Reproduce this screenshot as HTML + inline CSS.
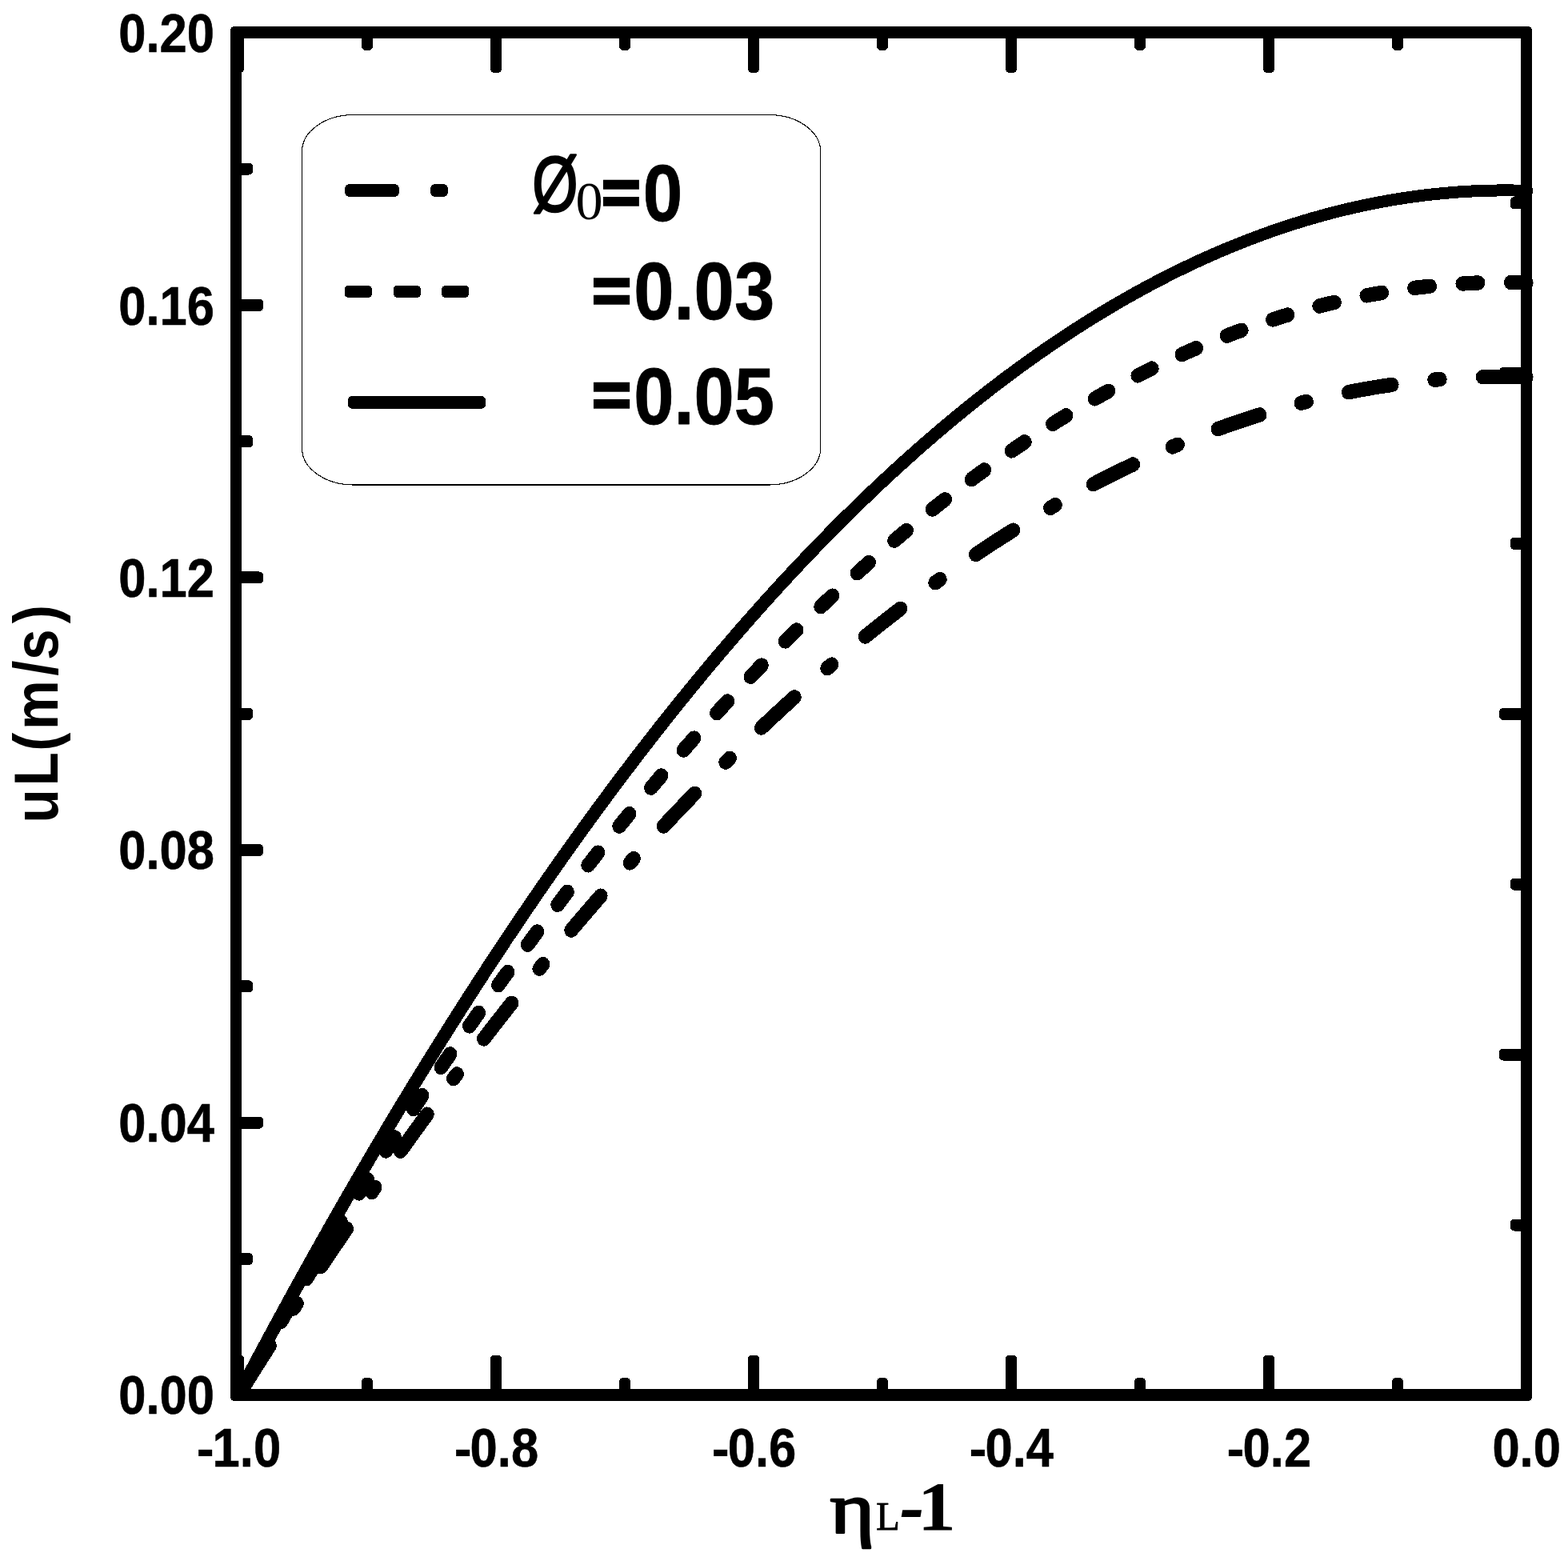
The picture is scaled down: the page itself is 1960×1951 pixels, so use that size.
<!DOCTYPE html>
<html lang="en"><head><meta charset="utf-8"><title>uL(m/s) vs ηL-1</title>
<style>html,body{margin:0;padding:0;background:#fff;}svg{display:block;}.sb{font-family:"Liberation Sans",sans-serif;font-weight:bold;}.sr{font-family:"Liberation Sans",sans-serif;font-weight:normal;}.tb{font-family:"Liberation Serif",serif;font-weight:bold;}.tr{font-family:"Liberation Serif",serif;font-weight:normal;}.tbi{font-family:"Liberation Serif",serif;font-weight:bold;font-style:italic;}text{fill:#000;}</style></head><body>
<svg width="1960" height="1951" viewBox="0 0 1960 1951" shape-rendering="crispEdges">
<rect x="0" y="0" width="1960" height="1951" fill="#fff"/>
<defs><clipPath id="plotclip"><rect x="295" y="40" width="1621.5" height="1705"/></clipPath></defs>
<g clip-path="url(#plotclip)"><g transform="scale(0.95,1)" fill="none" stroke="#000" stroke-linecap="round" stroke-linejoin="round">
<path d="M313.68,1743.90 L317.93,1737.42 L322.18,1730.95 L326.43,1724.50 L330.67,1718.07 L334.92,1711.66 L339.17,1705.26 L343.42,1698.88 L347.66,1692.51 L351.91,1686.16 L356.16,1679.83 L360.41,1673.51 L364.65,1667.21 L368.90,1660.93 L373.15,1654.66 L377.40,1648.41 L381.64,1642.18 L385.89,1635.96 L390.14,1629.76 L394.39,1623.58 L398.63,1617.41 L402.88,1611.26 L407.13,1605.13 L411.38,1599.01 L415.62,1592.91 L419.87,1586.82 L424.12,1580.75 L428.37,1574.70 L432.61,1568.67 L436.86,1562.65 L441.11,1556.65 L445.36,1550.66 L449.60,1544.69 L453.85,1538.74 L458.10,1532.80 L462.35,1526.89 L466.59,1520.98 L470.84,1515.10 L475.09,1509.23 L479.34,1503.37 L483.58,1497.54 L487.83,1491.72 L492.08,1485.91 L496.33,1480.13 L500.57,1474.36 L504.82,1468.60 L509.07,1462.87 L513.31,1457.15 L517.56,1451.44 L521.81,1445.75 L526.06,1440.08 L530.30,1434.43 L534.55,1428.79 L538.80,1423.17 L543.05,1417.56 L547.29,1411.97 L551.54,1406.40 L555.79,1400.85 L560.04,1395.31 L564.28,1389.79 L568.53,1384.28 L572.78,1378.79 L577.03,1373.32 L581.27,1367.86 L585.52,1362.42 L589.77,1357.00 L594.02,1351.59 L598.26,1346.20 L602.51,1340.83 L606.76,1335.47 L611.01,1330.13 L615.25,1324.81 L619.50,1319.50 L623.75,1314.21 L628.00,1308.94 L632.24,1303.68 L636.49,1298.44 L640.74,1293.21 L644.99,1288.01 L649.23,1282.82 L653.48,1277.64 L657.73,1272.48 L661.98,1267.34 L666.22,1262.22 L670.47,1257.11 L674.72,1252.01 L678.97,1246.94 L683.21,1241.88 L687.46,1236.84 L691.71,1231.81 L695.96,1226.80 L700.20,1221.81 L704.45,1216.83 L708.70,1211.87 L712.95,1206.93 L717.19,1202.00 L721.44,1197.09 L725.69,1192.20 L729.94,1187.32 L734.18,1182.46 L738.43,1177.62 L742.68,1172.79 L746.93,1167.98 L751.17,1163.18 L755.42,1158.41 L759.67,1153.64 L763.92,1148.90 L768.16,1144.17 L772.41,1139.46 L776.66,1134.76 L780.90,1130.09 L785.15,1125.42 L789.40,1120.78 L793.65,1116.15 L797.89,1111.54 L802.14,1106.94 L806.39,1102.36 L810.64,1097.80 L814.88,1093.25 L819.13,1088.72 L823.38,1084.21 L827.63,1079.71 L831.87,1075.23 L836.12,1070.77 L840.37,1066.32 L844.62,1061.89 L848.86,1057.48 L853.11,1053.08 L857.36,1048.70 L861.61,1044.33 L865.85,1039.99 L870.10,1035.66 L874.35,1031.34 L878.60,1027.04 L882.84,1022.76 L887.09,1018.50 L891.34,1014.25 L895.59,1010.01 L899.83,1005.80 L904.08,1001.60 L908.33,997.42 L912.58,993.25 L916.82,989.10 L921.07,984.97 L925.32,980.85 L929.57,976.75 L933.81,972.67 L938.06,968.60 L942.31,964.55 L946.56,960.52 L950.80,956.50 L955.05,952.50 L959.30,948.52 L963.55,944.55 L967.79,940.60 L972.04,936.67 L976.29,932.75 L980.54,928.85 L984.78,924.96 L989.03,921.09 L993.28,917.24 L997.53,913.41 L1001.77,909.59 L1006.02,905.79 L1010.27,902.00 L1014.52,898.23 L1018.76,894.48 L1023.01,890.74 L1027.26,887.03 L1031.51,883.32 L1035.75,879.64 L1040.00,875.97 L1044.25,872.31 L1048.49,868.68 L1052.74,865.06 L1056.99,861.45 L1061.24,857.87 L1065.48,854.30 L1069.73,850.74 L1073.98,847.20 L1078.23,843.68 L1082.47,840.18 L1086.72,836.69 L1090.97,833.22 L1095.22,829.77 L1099.46,826.33 L1103.71,822.91 L1107.96,819.50 L1112.21,816.11 L1116.45,812.74 L1120.70,809.39 L1124.95,806.05 L1129.20,802.72 L1133.44,799.42 L1137.69,796.13 L1141.94,792.86 L1146.19,789.60 L1150.43,786.36 L1154.68,783.14 L1158.93,779.93 L1163.18,776.74 L1167.42,773.57 L1171.67,770.41 L1175.92,767.27 L1180.17,764.15 L1184.41,761.04 L1188.66,757.95 L1192.91,754.88 L1197.16,751.82 L1201.40,748.78 L1205.65,745.75 L1209.90,742.74 L1214.15,739.75 L1218.39,736.78 L1222.64,733.82 L1226.89,730.88 L1231.14,727.95 L1235.38,725.04 L1239.63,722.15 L1243.88,719.27 L1248.13,716.42 L1252.37,713.57 L1256.62,710.75 L1260.87,707.94 L1265.12,705.14 L1269.36,702.37 L1273.61,699.61 L1277.86,696.86 L1282.11,694.14 L1286.35,691.43 L1290.60,688.73 L1294.85,686.06 L1299.10,683.40 L1303.34,680.75 L1307.59,678.12 L1311.84,675.51 L1316.08,672.92 L1320.33,670.34 L1324.58,667.78 L1328.83,665.23 L1333.07,662.71 L1337.32,660.19 L1341.57,657.70 L1345.82,655.22 L1350.06,652.76 L1354.31,650.31 L1358.56,647.88 L1362.81,645.47 L1367.05,643.07 L1371.30,640.70 L1375.55,638.33 L1379.80,635.99 L1384.04,633.66 L1388.29,631.34 L1392.54,629.05 L1396.79,626.77 L1401.03,624.50 L1405.28,622.25 L1409.53,620.02 L1413.78,617.81 L1418.02,615.61 L1422.27,613.43 L1426.52,611.27 L1430.77,609.12 L1435.01,606.99 L1439.26,604.87 L1443.51,602.77 L1447.76,600.69 L1452.00,598.63 L1456.25,596.58 L1460.50,594.55 L1464.75,592.53 L1468.99,590.53 L1473.24,588.55 L1477.49,586.58 L1481.74,584.63 L1485.98,582.70 L1490.23,580.79 L1494.48,578.89 L1498.73,577.00 L1502.97,575.14 L1507.22,573.29 L1511.47,571.45 L1515.72,569.63 L1519.96,567.83 L1524.21,566.05 L1528.46,564.28 L1532.71,562.53 L1536.95,560.80 L1541.20,559.08 L1545.45,557.38 L1549.70,555.69 L1553.94,554.03 L1558.19,552.37 L1562.44,550.74 L1566.69,549.12 L1570.93,547.52 L1575.18,545.93 L1579.43,544.36 L1583.67,542.81 L1587.92,541.28 L1592.17,539.76 L1596.42,538.25 L1600.66,536.77 L1604.91,535.30 L1609.16,533.84 L1613.41,532.41 L1617.65,530.99 L1621.90,529.58 L1626.15,528.20 L1630.40,526.83 L1634.64,525.47 L1638.89,524.13 L1643.14,522.81 L1647.39,521.51 L1651.63,520.22 L1655.88,518.95 L1660.13,517.70 L1664.38,516.46 L1668.62,515.24 L1672.87,514.03 L1677.12,512.84 L1681.37,511.67 L1685.61,510.51 L1689.86,509.38 L1694.11,508.25 L1698.36,507.15 L1702.60,506.06 L1706.85,504.99 L1711.10,503.93 L1715.35,502.89 L1719.59,501.87 L1723.84,500.86 L1728.09,499.87 L1732.34,498.90 L1736.58,497.94 L1740.83,497.00 L1745.08,496.08 L1749.33,495.17 L1753.57,494.28 L1757.82,493.40 L1762.07,492.55 L1766.32,491.70 L1770.56,490.88 L1774.81,490.07 L1779.06,489.28 L1783.31,488.50 L1787.55,487.75 L1791.80,487.00 L1796.05,486.28 L1800.30,485.57 L1804.54,484.88 L1808.79,484.20 L1813.04,483.54 L1817.29,482.90 L1821.53,482.27 L1825.78,481.66 L1830.03,481.07 L1834.28,480.49 L1838.52,479.93 L1842.77,479.39 L1847.02,478.86 L1851.27,478.35 L1855.51,477.86 L1859.76,477.38 L1864.01,476.92 L1868.25,476.48 L1872.50,476.05 L1876.75,475.64 L1881.00,475.24 L1885.24,474.87 L1889.49,474.50 L1893.74,474.16 L1897.99,473.83 L1902.23,473.52 L1906.48,473.22 L1910.73,472.95 L1914.98,472.68 L1919.22,472.44 L1923.47,472.21 L1927.72,472.00 L1931.97,471.80 L1936.21,471.62 L1940.46,471.46 L1944.71,471.31 L1948.96,471.18 L1953.20,471.07 L1957.45,470.97 L1961.70,470.89 L1965.95,470.83 L1970.19,470.78 L1974.44,470.75 L1978.69,470.73 L1982.94,470.74 L1987.18,470.76 L1991.43,470.79 L1995.68,470.84 L1999.93,470.91 L2004.17,471.00 L2008.42,471.10" stroke-width="18.4" stroke-dasharray="57.9 56.3 7.4 56.4" stroke-dashoffset="-16.4"/>
<path d="M313.68,1743.90 L317.93,1736.81 L322.18,1729.74 L326.43,1722.69 L330.67,1715.66 L334.92,1708.65 L339.17,1701.65 L343.42,1694.67 L347.66,1687.71 L351.91,1680.77 L356.16,1673.84 L360.41,1666.94 L364.65,1660.05 L368.90,1653.18 L373.15,1646.33 L377.40,1639.49 L381.64,1632.68 L385.89,1625.88 L390.14,1619.10 L394.39,1612.34 L398.63,1605.60 L402.88,1598.87 L407.13,1592.16 L411.38,1585.47 L415.62,1578.80 L419.87,1572.15 L424.12,1565.52 L428.37,1558.90 L432.61,1552.30 L436.86,1545.72 L441.11,1539.16 L445.36,1532.61 L449.60,1526.09 L453.85,1519.58 L458.10,1513.09 L462.35,1506.62 L466.59,1500.17 L470.84,1493.73 L475.09,1487.31 L479.34,1480.91 L483.58,1474.53 L487.83,1468.17 L492.08,1461.82 L496.33,1455.50 L500.57,1449.19 L504.82,1442.90 L509.07,1436.62 L513.31,1430.37 L517.56,1424.13 L521.81,1417.92 L526.06,1411.72 L530.30,1405.53 L534.55,1399.37 L538.80,1393.22 L543.05,1387.10 L547.29,1380.99 L551.54,1374.89 L555.79,1368.82 L560.04,1362.77 L564.28,1356.73 L568.53,1350.71 L572.78,1344.71 L577.03,1338.72 L581.27,1332.76 L585.52,1326.81 L589.77,1320.88 L594.02,1314.97 L598.26,1309.08 L602.51,1303.21 L606.76,1297.35 L611.01,1291.51 L615.25,1285.69 L619.50,1279.89 L623.75,1274.11 L628.00,1268.34 L632.24,1262.59 L636.49,1256.86 L640.74,1251.15 L644.99,1245.46 L649.23,1239.78 L653.48,1234.13 L657.73,1228.49 L661.98,1222.87 L666.22,1217.26 L670.47,1211.68 L674.72,1206.11 L678.97,1200.56 L683.21,1195.03 L687.46,1189.52 L691.71,1184.03 L695.96,1178.55 L700.20,1173.09 L704.45,1167.65 L708.70,1162.23 L712.95,1156.83 L717.19,1151.44 L721.44,1146.07 L725.69,1140.72 L729.94,1135.39 L734.18,1130.08 L738.43,1124.78 L742.68,1119.51 L746.93,1114.25 L751.17,1109.01 L755.42,1103.79 L759.67,1098.58 L763.92,1093.39 L768.16,1088.23 L772.41,1083.08 L776.66,1077.94 L780.90,1072.83 L785.15,1067.73 L789.40,1062.66 L793.65,1057.60 L797.89,1052.55 L802.14,1047.53 L806.39,1042.52 L810.64,1037.54 L814.88,1032.57 L819.13,1027.62 L823.38,1022.68 L827.63,1017.77 L831.87,1012.87 L836.12,1007.99 L840.37,1003.13 L844.62,998.29 L848.86,993.47 L853.11,988.66 L857.36,983.87 L861.61,979.10 L865.85,974.35 L870.10,969.61 L874.35,964.90 L878.60,960.20 L882.84,955.52 L887.09,950.86 L891.34,946.22 L895.59,941.59 L899.83,936.98 L904.08,932.39 L908.33,927.82 L912.58,923.27 L916.82,918.74 L921.07,914.22 L925.32,909.72 L929.57,905.24 L933.81,900.78 L938.06,896.33 L942.31,891.91 L946.56,887.50 L950.80,883.11 L955.05,878.74 L959.30,874.38 L963.55,870.05 L967.79,865.73 L972.04,861.43 L976.29,857.15 L980.54,852.89 L984.78,848.64 L989.03,844.41 L993.28,840.20 L997.53,836.01 L1001.77,831.84 L1006.02,827.69 L1010.27,823.55 L1014.52,819.43 L1018.76,815.33 L1023.01,811.25 L1027.26,807.18 L1031.51,803.14 L1035.75,799.11 L1040.00,795.10 L1044.25,791.11 L1048.49,787.13 L1052.74,783.18 L1056.99,779.24 L1061.24,775.32 L1065.48,771.42 L1069.73,767.54 L1073.98,763.67 L1078.23,759.82 L1082.47,756.00 L1086.72,752.19 L1090.97,748.39 L1095.22,744.62 L1099.46,740.86 L1103.71,737.12 L1107.96,733.40 L1112.21,729.70 L1116.45,726.02 L1120.70,722.35 L1124.95,718.70 L1129.20,715.07 L1133.44,711.46 L1137.69,707.87 L1141.94,704.29 L1146.19,700.74 L1150.43,697.20 L1154.68,693.67 L1158.93,690.17 L1163.18,686.69 L1167.42,683.22 L1171.67,679.77 L1175.92,676.34 L1180.17,672.93 L1184.41,669.53 L1188.66,666.16 L1192.91,662.80 L1197.16,659.46 L1201.40,656.14 L1205.65,652.83 L1209.90,649.55 L1214.15,646.28 L1218.39,643.03 L1222.64,639.80 L1226.89,636.58 L1231.14,633.39 L1235.38,630.21 L1239.63,627.05 L1243.88,623.91 L1248.13,620.79 L1252.37,617.68 L1256.62,614.60 L1260.87,611.53 L1265.12,608.48 L1269.36,605.45 L1273.61,602.43 L1277.86,599.44 L1282.11,596.46 L1286.35,593.50 L1290.60,590.56 L1294.85,587.63 L1299.10,584.73 L1303.34,581.84 L1307.59,578.97 L1311.84,576.12 L1316.08,573.28 L1320.33,570.47 L1324.58,567.67 L1328.83,564.89 L1333.07,562.13 L1337.32,559.39 L1341.57,556.66 L1345.82,553.96 L1350.06,551.27 L1354.31,548.60 L1358.56,545.95 L1362.81,543.31 L1367.05,540.70 L1371.30,538.10 L1375.55,535.52 L1379.80,532.96 L1384.04,530.41 L1388.29,527.89 L1392.54,525.38 L1396.79,522.89 L1401.03,520.42 L1405.28,517.97 L1409.53,515.53 L1413.78,513.12 L1418.02,510.72 L1422.27,508.34 L1426.52,505.97 L1430.77,503.63 L1435.01,501.30 L1439.26,498.99 L1443.51,496.70 L1447.76,494.43 L1452.00,492.18 L1456.25,489.94 L1460.50,487.72 L1464.75,485.52 L1468.99,483.34 L1473.24,481.18 L1477.49,479.03 L1481.74,476.91 L1485.98,474.80 L1490.23,472.71 L1494.48,470.63 L1498.73,468.58 L1502.97,466.54 L1507.22,464.52 L1511.47,462.52 L1515.72,460.54 L1519.96,458.57 L1524.21,456.63 L1528.46,454.70 L1532.71,452.79 L1536.95,450.90 L1541.20,449.02 L1545.45,447.17 L1549.70,445.33 L1553.94,443.51 L1558.19,441.71 L1562.44,439.93 L1566.69,438.16 L1570.93,436.41 L1575.18,434.68 L1579.43,432.97 L1583.67,431.28 L1587.92,429.61 L1592.17,427.95 L1596.42,426.31 L1600.66,424.69 L1604.91,423.09 L1609.16,421.50 L1613.41,419.94 L1617.65,418.39 L1621.90,416.86 L1626.15,415.35 L1630.40,413.85 L1634.64,412.38 L1638.89,410.92 L1643.14,409.48 L1647.39,408.06 L1651.63,406.66 L1655.88,405.27 L1660.13,403.90 L1664.38,402.56 L1668.62,401.22 L1672.87,399.91 L1677.12,398.62 L1681.37,397.34 L1685.61,396.08 L1689.86,394.84 L1694.11,393.62 L1698.36,392.42 L1702.60,391.23 L1706.85,390.06 L1711.10,388.91 L1715.35,387.78 L1719.59,386.67 L1723.84,385.57 L1728.09,384.49 L1732.34,383.43 L1736.58,382.39 L1740.83,381.37 L1745.08,380.37 L1749.33,379.38 L1753.57,378.41 L1757.82,377.46 L1762.07,376.53 L1766.32,375.61 L1770.56,374.72 L1774.81,373.84 L1779.06,372.98 L1783.31,372.13 L1787.55,371.31 L1791.80,370.50 L1796.05,369.72 L1800.30,368.95 L1804.54,368.20 L1808.79,367.46 L1813.04,366.75 L1817.29,366.05 L1821.53,365.37 L1825.78,364.71 L1830.03,364.07 L1834.28,363.44 L1838.52,362.83 L1842.77,362.25 L1847.02,361.68 L1851.27,361.12 L1855.51,360.59 L1859.76,360.07 L1864.01,359.57 L1868.25,359.09 L1872.50,358.63 L1876.75,358.19 L1881.00,357.76 L1885.24,357.36 L1889.49,356.97 L1893.74,356.59 L1897.99,356.24 L1902.23,355.91 L1906.48,355.59 L1910.73,355.29 L1914.98,355.01 L1919.22,354.75 L1923.47,354.50 L1927.72,354.27 L1931.97,354.07 L1936.21,353.88 L1940.46,353.70 L1944.71,353.55 L1948.96,353.41 L1953.20,353.29 L1957.45,353.19 L1961.70,353.11 L1965.95,353.05 L1970.19,353.00 L1974.44,352.98 L1978.69,352.97 L1982.94,352.98 L1987.18,353.00 L1991.43,353.05 L1995.68,353.11 L1999.93,353.19 L2004.17,353.29 L2008.42,353.41" stroke-width="18.4" stroke-dasharray="20.5 43.14" stroke-dashoffset="-43.73"/>
</g>
<g transform="scale(1.12,1)" fill="none" stroke="#000" stroke-linecap="round" stroke-linejoin="round">
<path d="M266.07,1743.90 L269.67,1736.23 L273.28,1728.59 L276.88,1720.96 L280.48,1713.36 L284.09,1705.77 L287.69,1698.20 L291.29,1690.65 L294.89,1683.13 L298.50,1675.62 L302.10,1668.13 L305.70,1660.66 L309.30,1653.21 L312.91,1645.78 L316.51,1638.37 L320.11,1630.97 L323.72,1623.60 L327.32,1616.25 L330.92,1608.92 L334.52,1601.60 L338.13,1594.31 L341.73,1587.04 L345.33,1579.78 L348.93,1572.55 L352.54,1565.33 L356.14,1558.14 L359.74,1550.96 L363.35,1543.80 L366.95,1536.66 L370.55,1529.55 L374.15,1522.45 L377.76,1515.37 L381.36,1508.31 L384.96,1501.27 L388.57,1494.25 L392.17,1487.25 L395.77,1480.27 L399.37,1473.31 L402.98,1466.37 L406.58,1459.45 L410.18,1452.54 L413.78,1445.66 L417.39,1438.80 L420.99,1431.95 L424.59,1425.13 L428.20,1418.32 L431.80,1411.54 L435.40,1404.77 L439.00,1398.03 L442.61,1391.30 L446.21,1384.59 L449.81,1377.91 L453.41,1371.24 L457.02,1364.59 L460.62,1357.96 L464.22,1351.35 L467.83,1344.76 L471.43,1338.19 L475.03,1331.64 L478.63,1325.11 L482.24,1318.60 L485.84,1312.11 L489.44,1305.64 L493.05,1299.18 L496.65,1292.75 L500.25,1286.34 L503.85,1279.94 L507.46,1273.57 L511.06,1267.21 L514.66,1260.88 L518.26,1254.56 L521.87,1248.27 L525.47,1241.99 L529.07,1235.73 L532.68,1229.49 L536.28,1223.28 L539.88,1217.08 L543.48,1210.90 L547.09,1204.74 L550.69,1198.60 L554.29,1192.48 L557.89,1186.38 L561.50,1180.30 L565.10,1174.24 L568.70,1168.19 L572.31,1162.17 L575.91,1156.17 L579.51,1150.19 L583.11,1144.22 L586.72,1138.28 L590.32,1132.35 L593.92,1126.45 L597.53,1120.56 L601.13,1114.70 L604.73,1108.85 L608.33,1103.02 L611.94,1097.22 L615.54,1091.43 L619.14,1085.66 L622.74,1079.91 L626.35,1074.18 L629.95,1068.47 L633.55,1062.78 L637.16,1057.11 L640.76,1051.46 L644.36,1045.83 L647.96,1040.22 L651.57,1034.63 L655.17,1029.05 L658.77,1023.50 L662.37,1017.97 L665.98,1012.45 L669.58,1006.96 L673.18,1001.48 L676.79,996.03 L680.39,990.59 L683.99,985.18 L687.59,979.78 L691.20,974.40 L694.80,969.05 L698.40,963.71 L702.01,958.39 L705.61,953.09 L709.21,947.81 L712.81,942.55 L716.42,937.31 L720.02,932.09 L723.62,926.89 L727.22,921.71 L730.83,916.55 L734.43,911.40 L738.03,906.28 L741.64,901.18 L745.24,896.09 L748.84,891.03 L752.44,885.99 L756.05,880.96 L759.65,875.96 L763.25,870.97 L766.85,866.00 L770.46,861.06 L774.06,856.13 L777.66,851.22 L781.27,846.33 L784.87,841.46 L788.47,836.62 L792.07,831.79 L795.68,826.98 L799.28,822.19 L802.88,817.42 L806.48,812.66 L810.09,807.93 L813.69,803.22 L817.29,798.53 L820.90,793.86 L824.50,789.20 L828.10,784.57 L831.70,779.95 L835.31,775.36 L838.91,770.78 L842.51,766.23 L846.12,761.69 L849.72,757.18 L853.32,752.68 L856.92,748.20 L860.53,743.74 L864.13,739.31 L867.73,734.89 L871.33,730.49 L874.94,726.11 L878.54,721.75 L882.14,717.41 L885.75,713.09 L889.35,708.79 L892.95,704.50 L896.55,700.24 L900.16,696.00 L903.76,691.78 L907.36,687.57 L910.96,683.39 L914.57,679.22 L918.17,675.08 L921.77,670.95 L925.38,666.85 L928.98,662.76 L932.58,658.69 L936.18,654.65 L939.79,650.62 L943.39,646.61 L946.99,642.62 L950.60,638.65 L954.20,634.71 L957.80,630.78 L961.40,626.87 L965.01,622.97 L968.61,619.10 L972.21,615.25 L975.81,611.42 L979.42,607.61 L983.02,603.81 L986.62,600.04 L990.23,596.29 L993.83,592.55 L997.43,588.84 L1001.03,585.14 L1004.64,581.47 L1008.24,577.81 L1011.84,574.18 L1015.44,570.56 L1019.05,566.96 L1022.65,563.38 L1026.25,559.83 L1029.86,556.29 L1033.46,552.77 L1037.06,549.27 L1040.66,545.79 L1044.27,542.33 L1047.87,538.89 L1051.47,535.47 L1055.08,532.06 L1058.68,528.68 L1062.28,525.32 L1065.88,521.98 L1069.49,518.65 L1073.09,515.35 L1076.69,512.07 L1080.29,508.80 L1083.90,505.56 L1087.50,502.33 L1091.10,499.12 L1094.71,495.94 L1098.31,492.77 L1101.91,489.62 L1105.51,486.49 L1109.12,483.39 L1112.72,480.30 L1116.32,477.23 L1119.92,474.18 L1123.53,471.15 L1127.13,468.14 L1130.73,465.15 L1134.34,462.18 L1137.94,459.22 L1141.54,456.29 L1145.14,453.38 L1148.75,450.49 L1152.35,447.61 L1155.95,444.76 L1159.56,441.92 L1163.16,439.11 L1166.76,436.31 L1170.36,433.54 L1173.97,430.78 L1177.57,428.04 L1181.17,425.33 L1184.77,422.63 L1188.38,419.95 L1191.98,417.29 L1195.58,414.65 L1199.19,412.03 L1202.79,409.43 L1206.39,406.85 L1209.99,404.29 L1213.60,401.75 L1217.20,399.23 L1220.80,396.73 L1224.40,394.25 L1228.01,391.78 L1231.61,389.34 L1235.21,386.92 L1238.82,384.51 L1242.42,382.13 L1246.02,379.76 L1249.62,377.42 L1253.23,375.09 L1256.83,372.78 L1260.43,370.50 L1264.04,368.23 L1267.64,365.98 L1271.24,363.75 L1274.84,361.55 L1278.45,359.36 L1282.05,357.19 L1285.65,355.04 L1289.25,352.91 L1292.86,350.80 L1296.46,348.70 L1300.06,346.63 L1303.67,344.58 L1307.27,342.55 L1310.87,340.53 L1314.47,338.54 L1318.08,336.57 L1321.68,334.61 L1325.28,332.68 L1328.88,330.76 L1332.49,328.87 L1336.09,326.99 L1339.69,325.13 L1343.30,323.30 L1346.90,321.48 L1350.50,319.68 L1354.10,317.90 L1357.71,316.14 L1361.31,314.40 L1364.91,312.68 L1368.52,310.98 L1372.12,309.30 L1375.72,307.64 L1379.32,306.00 L1382.93,304.38 L1386.53,302.78 L1390.13,301.19 L1393.73,299.63 L1397.34,298.09 L1400.94,296.56 L1404.54,295.06 L1408.15,293.57 L1411.75,292.11 L1415.35,290.66 L1418.95,289.24 L1422.56,287.83 L1426.16,286.44 L1429.76,285.07 L1433.36,283.73 L1436.97,282.40 L1440.57,281.09 L1444.17,279.80 L1447.78,278.53 L1451.38,277.28 L1454.98,276.05 L1458.58,274.84 L1462.19,273.65 L1465.79,272.47 L1469.39,271.32 L1472.99,270.19 L1476.60,269.07 L1480.20,267.98 L1483.80,266.91 L1487.41,265.85 L1491.01,264.82 L1494.61,263.80 L1498.21,262.80 L1501.82,261.83 L1505.42,260.87 L1509.02,259.93 L1512.63,259.02 L1516.23,258.12 L1519.83,257.24 L1523.43,256.38 L1527.04,255.54 L1530.64,254.72 L1534.24,253.92 L1537.84,253.14 L1541.45,252.38 L1545.05,251.63 L1548.65,250.91 L1552.26,250.21 L1555.86,249.53 L1559.46,248.86 L1563.06,248.22 L1566.67,247.59 L1570.27,246.99 L1573.87,246.40 L1577.47,245.84 L1581.08,245.29 L1584.68,244.77 L1588.28,244.26 L1591.89,243.77 L1595.49,243.30 L1599.09,242.85 L1602.69,242.43 L1606.30,242.02 L1609.90,241.63 L1613.50,241.26 L1617.11,240.91 L1620.71,240.57 L1624.31,240.26 L1627.91,239.97 L1631.52,239.70 L1635.12,239.45 L1638.72,239.21 L1642.32,239.00 L1645.93,238.80 L1649.53,238.63 L1653.13,238.47 L1656.74,238.34 L1660.34,238.22 L1663.94,238.13 L1667.54,238.05 L1671.15,237.99 L1674.75,237.95 L1678.35,237.94 L1681.95,237.94 L1685.56,237.96 L1689.16,238.00 L1692.76,238.06 L1696.37,238.14 L1699.97,238.24 L1703.57,238.36" stroke-width="15.0"/>
</g></g>
<path fill="#000" fill-rule="evenodd" d="M293.0,33.1 H1910.0 Q1915.0,33.1 1915.0,38.1 V1745.9 Q1915.0,1750.9 1910.0,1750.9 H293.0 Q288.0,1750.9 288.0,1745.9 V38.1 Q288.0,33.1 293.0,33.1 Z M301.9,47.8 V1736.1 H1901.1 V47.8 Z"/>
<g fill="#000" stroke="none">
<rect x="291.00" y="40" width="14.0" height="51.06" rx="5" ry="5"/>
<rect x="291.00" y="1693.60" width="14.0" height="50.40" rx="5" ry="5"/>
<rect x="452.00" y="40" width="14.0" height="22.86" rx="5" ry="5"/>
<rect x="452.00" y="1721.90" width="14.0" height="22.10" rx="5" ry="5"/>
<rect x="613.00" y="40" width="14.0" height="51.06" rx="5" ry="5"/>
<rect x="613.00" y="1693.60" width="14.0" height="50.40" rx="5" ry="5"/>
<rect x="774.00" y="40" width="14.0" height="22.86" rx="5" ry="5"/>
<rect x="774.00" y="1721.90" width="14.0" height="22.10" rx="5" ry="5"/>
<rect x="935.00" y="40" width="14.0" height="51.06" rx="5" ry="5"/>
<rect x="935.00" y="1693.60" width="14.0" height="50.40" rx="5" ry="5"/>
<rect x="1096.00" y="40" width="14.0" height="22.86" rx="5" ry="5"/>
<rect x="1096.00" y="1721.90" width="14.0" height="22.10" rx="5" ry="5"/>
<rect x="1257.00" y="40" width="14.0" height="51.06" rx="5" ry="5"/>
<rect x="1257.00" y="1693.60" width="14.0" height="50.40" rx="5" ry="5"/>
<rect x="1418.00" y="40" width="14.0" height="22.86" rx="5" ry="5"/>
<rect x="1418.00" y="1721.90" width="14.0" height="22.10" rx="5" ry="5"/>
<rect x="1579.00" y="40" width="14.0" height="51.06" rx="5" ry="5"/>
<rect x="1579.00" y="1693.60" width="14.0" height="50.40" rx="5" ry="5"/>
<rect x="1740.00" y="40" width="14.0" height="22.86" rx="5" ry="5"/>
<rect x="1740.00" y="1721.90" width="14.0" height="22.10" rx="5" ry="5"/>
<rect x="294" y="1566.08" width="22.20" height="15.0" rx="5" ry="5"/>
<rect x="294" y="1395.76" width="35.20" height="15.0" rx="5" ry="5"/>
<rect x="294" y="1225.44" width="22.20" height="15.0" rx="5" ry="5"/>
<rect x="294" y="1055.12" width="35.20" height="15.0" rx="5" ry="5"/>
<rect x="294" y="884.80" width="22.20" height="15.0" rx="5" ry="5"/>
<rect x="294" y="714.48" width="35.20" height="15.0" rx="5" ry="5"/>
<rect x="294" y="544.16" width="22.20" height="15.0" rx="5" ry="5"/>
<rect x="294" y="373.84" width="35.20" height="15.0" rx="5" ry="5"/>
<rect x="294" y="203.52" width="22.20" height="15.0" rx="5" ry="5"/>
<rect x="1887.70" y="1523.50" width="21.30" height="15.0" rx="5" ry="5"/>
<rect x="1874.00" y="1310.60" width="35.00" height="15.0" rx="5" ry="5"/>
<rect x="1887.70" y="1097.70" width="21.30" height="15.0" rx="5" ry="5"/>
<rect x="1874.00" y="884.80" width="35.00" height="15.0" rx="5" ry="5"/>
<rect x="1887.70" y="671.90" width="21.30" height="15.0" rx="5" ry="5"/>
<rect x="1874.00" y="459.00" width="35.00" height="15.0" rx="5" ry="5"/>
<rect x="1887.70" y="246.10" width="21.30" height="15.0" rx="5" ry="5"/>
</g>
<text class="sb" font-size="69.0" stroke="#000" stroke-width="0.6" transform="translate(148.26,1767.10) scale(0.8913,1)">0.00</text>
<text class="sb" font-size="69.0" stroke="#000" stroke-width="0.6" transform="translate(148.26,1426.72) scale(0.8913,1)">0.04</text>
<text class="sb" font-size="69.0" stroke="#000" stroke-width="0.6" transform="translate(148.26,1086.34) scale(0.8913,1)">0.08</text>
<text class="sb" font-size="69.0" stroke="#000" stroke-width="0.6" transform="translate(148.26,745.96) scale(0.8913,1)">0.12</text>
<text class="sb" font-size="69.0" stroke="#000" stroke-width="0.6" transform="translate(148.26,405.58) scale(0.8913,1)">0.16</text>
<text class="sb" font-size="69.0" stroke="#000" stroke-width="0.6" transform="translate(148.26,65.20) scale(0.8913,1)">0.20</text>
<text class="sb" font-size="69.0" stroke="#000" stroke-width="0.6"><tspan x="245.38" y="1833.6" stroke="none" textLength="22.36" lengthAdjust="spacingAndGlyphs">-</tspan><tspan x="265.62" y="1833.2" textLength="85.49" lengthAdjust="spacingAndGlyphs">1.0</tspan></text>
<text class="sb" font-size="69.0" stroke="#000" stroke-width="0.6"><tspan x="567.38" y="1833.6" stroke="none" textLength="22.36" lengthAdjust="spacingAndGlyphs">-</tspan><tspan x="587.62" y="1833.2" textLength="85.49" lengthAdjust="spacingAndGlyphs">0.8</tspan></text>
<text class="sb" font-size="69.0" stroke="#000" stroke-width="0.6"><tspan x="889.38" y="1833.6" stroke="none" textLength="22.36" lengthAdjust="spacingAndGlyphs">-</tspan><tspan x="909.69" y="1833.2" textLength="85.49" lengthAdjust="spacingAndGlyphs">0.6</tspan></text>
<text class="sb" font-size="69.0" stroke="#000" stroke-width="0.6"><tspan x="1211.23" y="1833.6" stroke="none" textLength="22.36" lengthAdjust="spacingAndGlyphs">-</tspan><tspan x="1231.57" y="1833.2" textLength="85.49" lengthAdjust="spacingAndGlyphs">0.4</tspan></text>
<text class="sb" font-size="69.0" stroke="#000" stroke-width="0.6"><tspan x="1533.28" y="1833.6" stroke="none" textLength="22.36" lengthAdjust="spacingAndGlyphs">-</tspan><tspan x="1553.62" y="1833.2" textLength="85.49" lengthAdjust="spacingAndGlyphs">0.2</tspan></text>
<text class="sb" font-size="69.0" stroke="#000" stroke-width="0.6" transform="translate(1865.4,1833.2) scale(0.8913,1)">0.0</text>
<text class="sb" font-size="78.0" x="-5.26 46.43 95.55 125.55 201.06 223.04 274.38" y="0" transform="translate(72.0,1023.8) rotate(-90) scale(0.891,1)">uL(m/s)</text>
<text><tspan class="tr" x="1037.55" y="1915.65" font-size="90.229" textLength="55.79" lengthAdjust="spacingAndGlyphs" stroke="#000" stroke-width="2.5" stroke-linejoin="round">η</tspan><tspan class="tr" x="1094.9" y="1911.6" font-size="50.643" textLength="29.9" lengthAdjust="spacingAndGlyphs" stroke="#000" stroke-width="0.8" stroke-linejoin="round">L</tspan><tspan class="tbi" x="1124.8" y="1916.1" font-size="103.822" textLength="30.58" lengthAdjust="spacingAndGlyphs">-</tspan><tspan class="tb" x="1147.05" y="1911.75" font-size="86.067" textLength="47.86" lengthAdjust="spacingAndGlyphs">1</tspan></text>
<rect x="377.5" y="143.5" width="648.2" height="462.5" rx="64.8" ry="45.9" fill="none" stroke="#000" stroke-width="1.15"/>
<g fill="#000" stroke="none">
<rect x="430.84" y="229.95" width="68.21" height="16.15" rx="6.5" ry="6.5"/>
<rect x="537.76" y="229.95" width="22.34" height="16.15" rx="6.5" ry="6.5"/>
<rect x="430.8" y="356.8" width="34.2" height="15.3" rx="5" ry="5"/>
<rect x="491.9" y="356.8" width="34.1" height="15.3" rx="5" ry="5"/>
<rect x="552.0" y="356.8" width="34.2" height="15.3" rx="5" ry="5"/>
<rect x="434.9" y="494.8" width="172.1" height="16" rx="5.5" ry="5.5"/>
</g>
<text><tspan class="sr" x="665.3" y="264.25" font-size="97.846" textLength="57.24" lengthAdjust="spacingAndGlyphs" stroke="#000" stroke-width="2.6" stroke-linejoin="round">Ø</tspan><tspan class="tr" x="719.5" y="274.15" font-size="67.409" textLength="34.12" lengthAdjust="spacingAndGlyphs">0</tspan><tspan class="sb" x="752.25" y="266.5" font-size="78.5" textLength="48.26" lengthAdjust="spacingAndGlyphs" stroke="#000" stroke-width="3.34" stroke-linejoin="miter">=</tspan><tspan class="sb" x="803.85" y="276.0" font-size="101.001" textLength="49.43" lengthAdjust="spacingAndGlyphs" stroke="#000" stroke-width="0.8" stroke-linejoin="round">0</tspan></text>
<text><tspan class="sb" x="740.15" y="389.55" font-size="79.164" textLength="48.53" lengthAdjust="spacingAndGlyphs" stroke="#000" stroke-width="3.34" stroke-linejoin="miter">=</tspan><tspan class="sb" x="792.15" y="399.0" font-size="101.705" textLength="176.08" lengthAdjust="spacingAndGlyphs" stroke="#000" stroke-width="0.8" stroke-linejoin="round">0.03</tspan></text>
<text><tspan class="sb" x="740.15" y="520.3" font-size="78.503" textLength="48.52" lengthAdjust="spacingAndGlyphs" stroke="#000" stroke-width="3.34" stroke-linejoin="miter">=</tspan><tspan class="sb" x="792.15" y="529.7" font-size="101.001" textLength="175.83" lengthAdjust="spacingAndGlyphs" stroke="#000" stroke-width="0.8" stroke-linejoin="round">0.05</tspan></text>
</svg></body></html>
